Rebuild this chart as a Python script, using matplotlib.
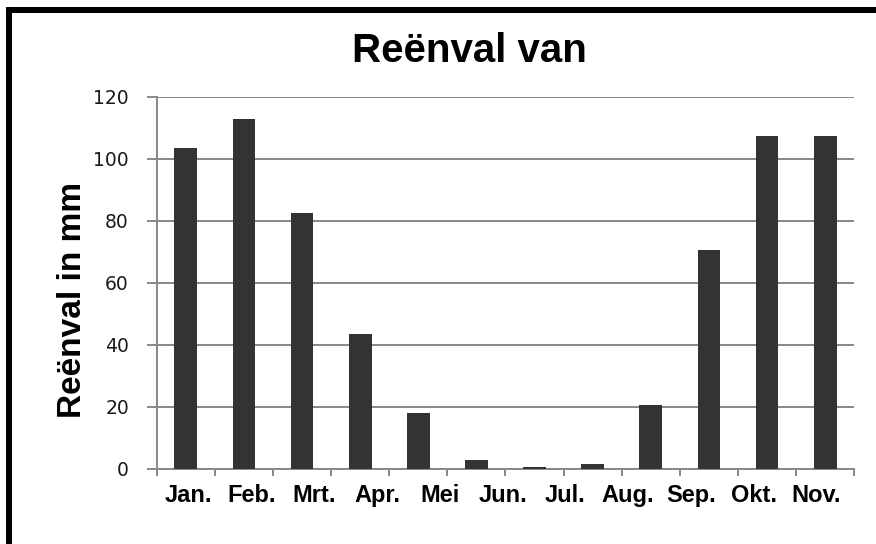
import matplotlib
matplotlib.use("Agg")
import matplotlib.pyplot as plt
import numpy as np
from matplotlib.patches import Rectangle

# Reënval per maand (mm) - 12 staven, maar slechts 11 labels op de as
maanden = ["Jan.", "Feb.", "Mrt.", "Apr.", "Mei", "Jun.", "Jul.", "Aug.", "Sep.", "Okt.", "Nov."]
regen = [103.4, 112.8, 82.5, 43.3, 17.8, 2.6, 0.5, 1.6, 20.5, 70.5, 107.5, 107.5]
y_ticks = [0, 20, 40, 60, 80, 100, 120]

W, H = 876, 544
fig = plt.figure(figsize=(W / 100, H / 100), dpi=100)
ax = fig.add_axes([156.7 / W, 1 - 468.5 / H, 697.6 / W, 371.5 / H])

grijs = "#888888"
x = np.arange(len(regen))
ax.bar(x, regen, width=0.39, color="#333333", zorder=3)

ax.set_xlim(-0.5, len(regen) - 0.5)
ax.set_ylim(0, 120)
ax.set_yticks(y_ticks)
ax.yaxis.grid(True, color=grijs, linewidth=1.4)
ax.set_axisbelow(True)

# labels staan niet onder de staven, maar verspreid over 11 posities
label_pos = np.linspace(0.05, 10.85, len(maanden))
ax.set_xticks(label_pos)
ax.set_xticklabels(maanden, fontfamily="Liberation Sans", fontweight="bold", fontsize=17)
ax.set_xticks(np.arange(len(regen) + 1) - 0.5, minor=True)
ax.tick_params(axis="x", which="major", length=0, pad=11)
ax.tick_params(axis="x", which="minor", length=5, width=1.4, color=grijs, direction="out")
ax.tick_params(axis="y", length=7, width=1.4, color=grijs, pad=13, labelsize=13.5,
               labelcolor="#1a1a1a")

for s in ["top", "right"]:
    ax.spines[s].set_visible(False)
for s in ["left", "bottom"]:
    ax.spines[s].set_color(grijs)
    ax.spines[s].set_linewidth(1.4)

ax.set_ylabel("Reënval in mm", fontfamily="Liberation Sans", fontweight="bold", fontsize=24)
ax.yaxis.label.set_va("center")
ax.yaxis.set_label_coords(-0.121, 0.4535)

fig.text(469 / W, 1 - 62 / H, "Reënval van", ha="center", va="baseline",
         fontfamily="Liberation Sans", fontweight="bold", fontsize=29)

# zwarte kader (alleen boven en links zichtbaar)
fig.patches.append(Rectangle((9 / W, -0.1), 1.2, 1 - 10 / H + 0.1, transform=fig.transFigure,
                             fill=False, edgecolor="black", linewidth=4.3))

fig.savefig("out.png", dpi=100)
